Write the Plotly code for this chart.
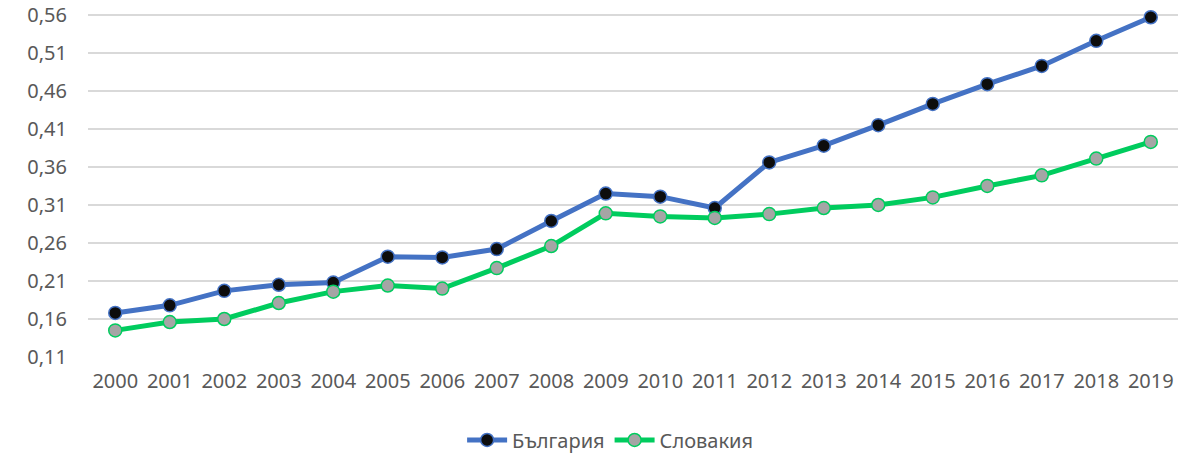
import plotly.graph_objects as go

years = [str(y) for y in range(2000, 2020)]
bulgaria = [0.168, 0.178, 0.197, 0.205, 0.208, 0.242, 0.241, 0.252, 0.289, 0.325,
            0.321, 0.306, 0.366, 0.388, 0.415, 0.443, 0.469, 0.493, 0.526, 0.557]
slovakia = [0.145, 0.156, 0.160, 0.181, 0.196, 0.204, 0.200, 0.227, 0.256, 0.299,
            0.295, 0.293, 0.298, 0.306, 0.310, 0.320, 0.335, 0.349, 0.371, 0.393]
y_ticks = [0.11, 0.16, 0.21, 0.26, 0.31, 0.36, 0.41, 0.46, 0.51, 0.56]

FONT = "Noto Sans, Open Sans, sans-serif"

fig = go.Figure()
fig.add_trace(go.Scatter(
    x=years, y=bulgaria, name="България", mode="lines+markers",
    line=dict(color="#4472C4", width=5),
    marker=dict(size=13, color="#0D0D0D", line=dict(color="#4472C4", width=1.5)),
    cliponaxis=False,
))
fig.add_trace(go.Scatter(
    x=years, y=slovakia, name="Словакия", mode="lines+markers",
    line=dict(color="#00CC5E", width=5),
    marker=dict(size=13, color="#A5A5A5", line=dict(color="#00CC5E", width=1.5)),
    cliponaxis=False,
))

fig.update_layout(
    width=1201, height=460,
    margin=dict(l=88, r=23, t=0, b=103, autoexpand=False),
    paper_bgcolor="white", plot_bgcolor="white",
    separators=", ",
    font=dict(family=FONT, size=20, color="#595959"),
    showlegend=True,
    legend=dict(orientation="h", x=0.508, xanchor="center", xref="container",
                y=0.0435, yanchor="middle", yref="container",
                font=dict(size=20, color="#595959"), itemwidth=40),
    xaxis=dict(type="category", range=[-0.5, 19.5], showgrid=False, showline=False,
               zeroline=False, ticks="", automargin=False, ticklabelstandoff=10,
               tickfont=dict(size=20, color="#595959")),
    yaxis=dict(range=[0.11, 0.5797], tickvals=y_ticks, tickformat=".2f",
               showgrid=True, gridcolor="#D9D9D9", gridwidth=1.5, zeroline=False,
               showline=False, ticks="", automargin=False, ticklabelstandoff=20,
               ticklabeloverflow="allow",
               tickfont=dict(size=20, color="#595959")),
)

fig.write_html("out.html", config={"displayModeBar": False},
               post_script="document.body.style.margin='0';")
